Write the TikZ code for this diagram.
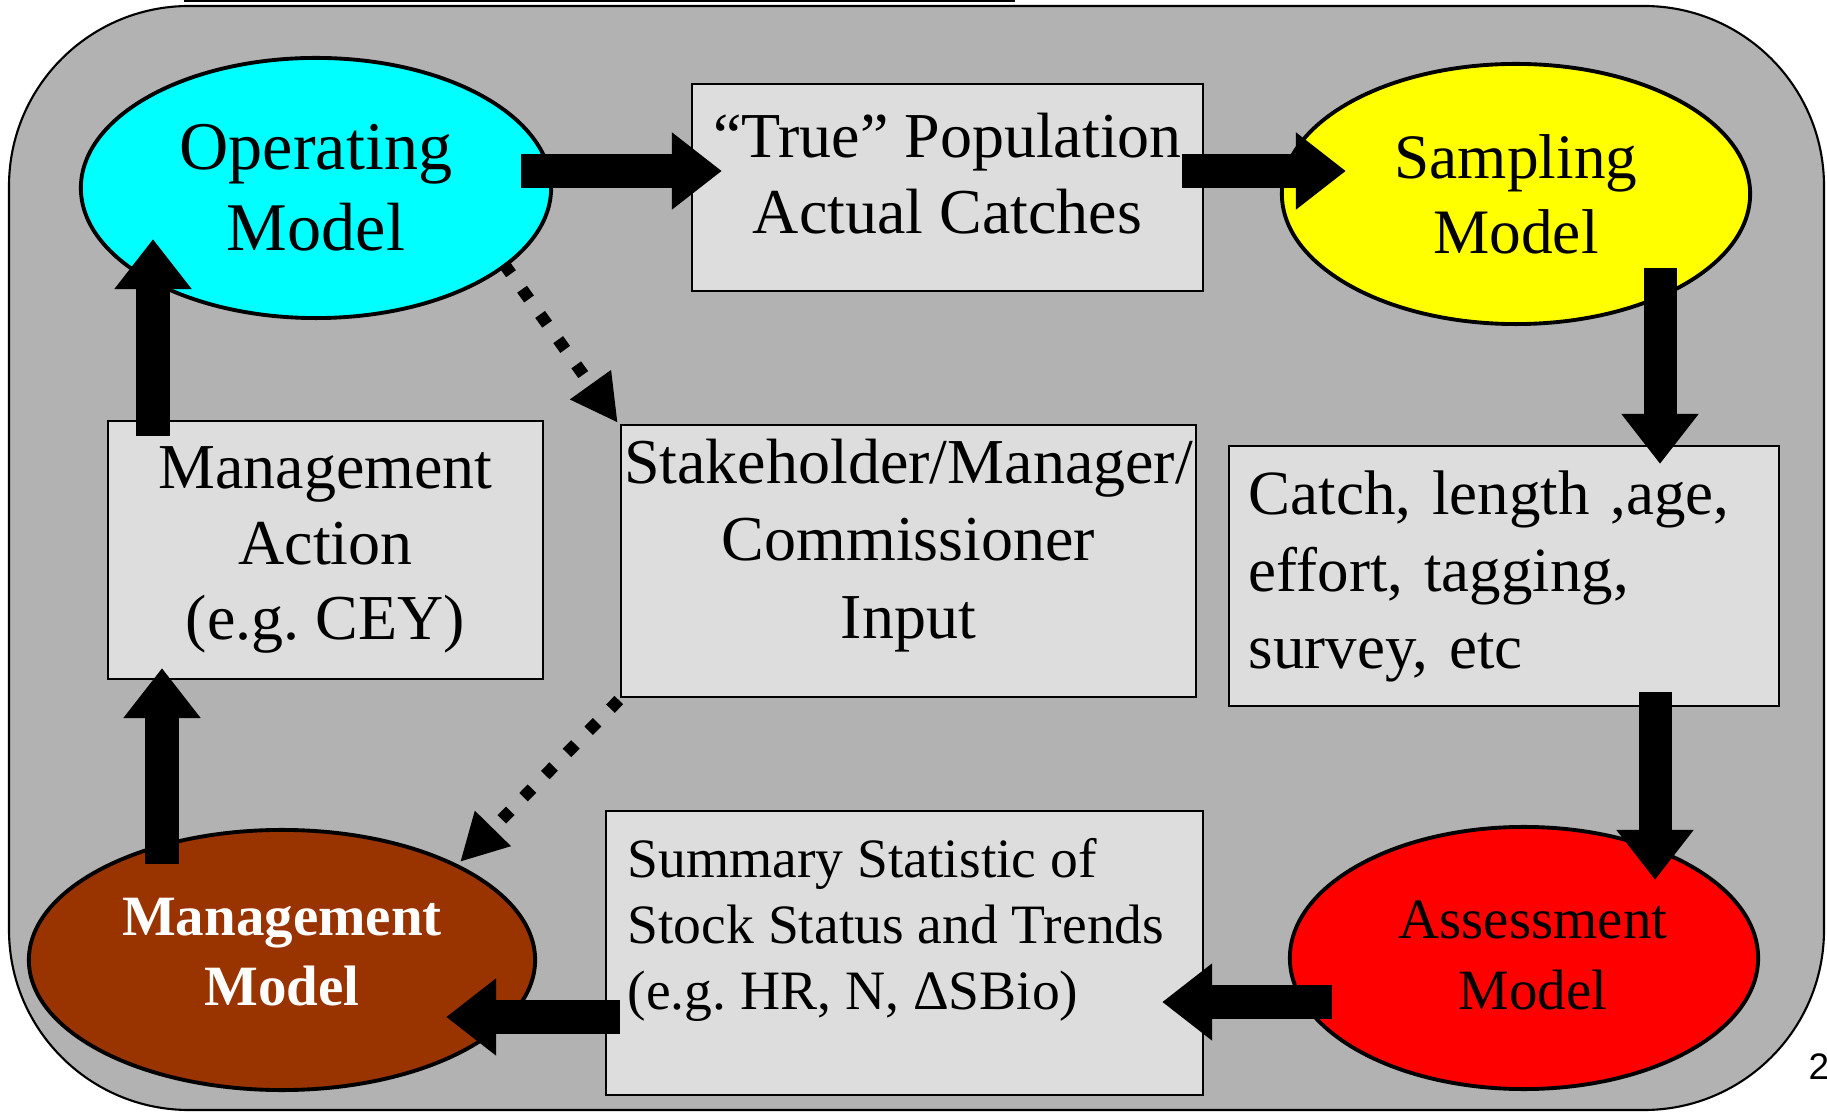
\documentclass[tikz,border=0pt]{standalone}
\usepackage{fontspec}
\setmainfont{Liberation Serif}
\setsansfont{Liberation Sans}
\usepackage{tikz}
\usetikzlibrary{arrows.meta}
\usetikzlibrary{shapes.geometric}
\usetikzlibrary{positioning}
\frenchspacing

\definecolor{bggray}{RGB}{178,178,178}
\definecolor{boxgray}{RGB}{221,221,221}
\definecolor{opcyan}{RGB}{0,255,255}
\definecolor{sampyellow}{RGB}{255,255,0}
\definecolor{assessred}{RGB}{255,0,0}
\definecolor{mgmtbrown}{RGB}{153,51,0}

\tikzset{
  model/.style={ellipse, draw=black, line width=1.1pt, inner sep=0pt, outer sep=0pt, align=center},
  infobox/.style={rectangle, draw=black, line width=0.7pt, fill=boxgray, inner sep=0pt, outer sep=0pt},
  bigarrow/.style={line width=0.33cm, -{Triangle[length=0.5cm,width=0.74cm]}},
  dotarrow/.style={line width=0.12cm, dash pattern=on 0.12cm off 0.19cm, -{Triangle[length=0.47cm,width=0.47cm]}}
}

\begin{document}
\begin{tikzpicture}[line cap=butt,line join=miter,x=0.01cm,y=-0.01cm]
\useasboundingbox (0,0) rectangle (1827,1113);
\draw [fill=bggray, line width=0.6pt, rounded corners=1.8cm] (9,6) rectangle (1824,1110);
\draw [line width=0.85pt] (184,1) -- (1015,1);

\node [model, fill=opcyan, minimum width=4.7cm, minimum height=2.6cm, font=\fontsize{19.4}{23}\selectfont] (opmodel) at (316,188) {Operating\\Model};
\node [infobox, minimum width=5.11cm, minimum height=2.07cm, align=center, font=\fontsize{18.2}{21.6}\selectfont] (truebox) at (947.5,187.5) {“True” Population\\Actual Catches\rule[-0.28cm]{0pt}{0pt}};
\node [model, fill=sampyellow, minimum width=4.68cm, minimum height=2.6cm, font=\fontsize{18}{21.4}\selectfont] (sampmodel) at (1516,194) {Sampling\\Model};

\node [infobox, minimum width=4.35cm, minimum height=2.58cm, align=center, font=\fontsize{18.2}{21.4}\selectfont] (actbox) at (325.5,550) {Management\\Action\\(e.g. CEY)};
\node [infobox, minimum width=5.75cm, minimum height=2.72cm, align=center, font=\fontsize{18.2}{22}\selectfont] (stakebox) at (908.5,561) {Stakeholder/Manager/\\Commissioner\\Input\rule[-0.45cm]{0pt}{0pt}};
\node [infobox, minimum width=5.5cm, minimum height=2.6cm, inner xsep=0.2cm, text width=5.1cm, align=left, font=\fontsize{17.9}{21.9}\selectfont] (catchbox) at (1504,576) {Catch, length ,age,\\effort, tagging,\\survey, etc};

\node [model, fill=mgmtbrown, text=white, minimum width=5.06cm, minimum height=2.6cm, font=\bfseries\fontsize{16.2}{19.9}\selectfont] (mgmtmodel) at (282,960) {Management\\Model\rule[-0.16cm]{0pt}{0pt}};
\node [infobox, minimum width=5.97cm, minimum height=2.84cm] (sumbox) at (904.5,953) {};
\node [anchor=north west, align=left, inner sep=0pt, font=\fontsize{15.8}{18.8}\selectfont] (sumtext) at ([shift={(21,27)}]sumbox.north west) {Summary Statistic of\\Stock Status and Trends\\(e.g. HR, N, ΔSBio)};
\node [model, fill=assessred, minimum width=4.68cm, minimum height=2.62cm, font=\fontsize{16.2}{20.2}\selectfont] (assessmodel) at (1524,958) {\hspace*{0.18cm}Assessment\\\hspace*{0.18cm}Model\rule[-0.06cm]{0pt}{0pt}};

\node [anchor=base west, inner sep=0pt, font=\sffamily\fontsize{10.5}{12}\selectfont] (pagenum) at (1808,1079) {2};

\draw [bigarrow] ([shift={(-30,-17)}]opmodel.east) -- ([shift={(30,-16.5)}]truebox.west);
\draw [bigarrow] ([shift={(-21,-16.5)}]truebox.east) -- ([shift={(64,-23)}]sampmodel.west);
\draw [bigarrow] ([shift={(144,74)}]sampmodel.center) -- ([shift={(156,18)}]catchbox.north);
\draw [bigarrow] ([shift={(151,-14)}]catchbox.south) -- ([shift={(131,53)}]assessmodel.north);
\draw [bigarrow] ([shift={(42,44)}]assessmodel.west) -- ([shift={(-41,49)}]sumbox.east);
\draw [bigarrow] ([shift={(14,64)}]sumbox.west) -- ([shift={(-89,57)}]mgmtmodel.east);
\draw [bigarrow] ([shift={(-120,34)}]mgmtmodel.north) -- ([shift={(-163.5,-11)}]actbox.south);
\draw [bigarrow] ([shift={(-172.5,15)}]actbox.north) -- ([shift={(-163,-79)}]opmodel.south);
\draw [dotarrow] ([shift={(188,76)}]opmodel.center) -- ([shift={(-3,-2)}]stakebox.north west);
\draw [dotarrow] ([shift={(-2,3)}]stakebox.south west) -- ([shift={(178,-98)}]mgmtmodel.center);
\end{tikzpicture}
\end{document}
